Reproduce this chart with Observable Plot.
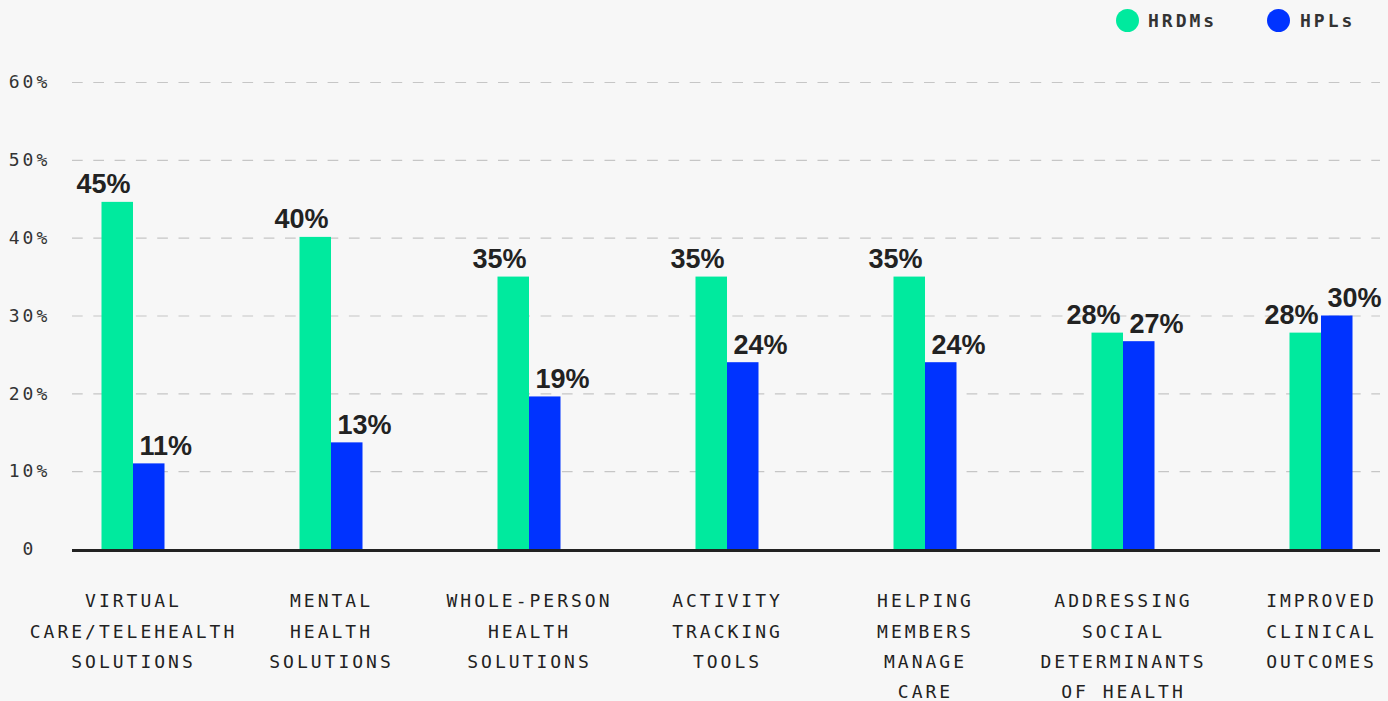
<!DOCTYPE html>
<html><head><meta charset="utf-8">
<script src="https://cdn.jsdelivr.net/npm/d3@7"></script>
<script src="https://cdn.jsdelivr.net/npm/@observablehq/plot@0.6"></script>
<style>
html,body{margin:0;padding:0;background:#f7f7f7;}
#legend{position:relative;height:40px;width:1388px;font-family:"DejaVu Sans Mono",monospace;font-weight:bold;font-size:18px;letter-spacing:3px;color:#333;}
.sw{position:absolute;width:23px;height:23px;border-radius:50%;top:9px;}
.lb{position:absolute;top:9px;line-height:23px;}
#chart svg{display:block;}
</style></head><body>
<div id="legend"></div>
<div id="chart"></div>
<script>
const categories = ["Virtual care/telehealth solutions","Mental health solutions","Whole-person health solutions","Activity tracking tools","Helping members manage care","Addressing social determinants of health","Improved clinical outcomes"];
const xTickLabels = ["VIRTUAL\nCARE/TELEHEALTH\nSOLUTIONS","MENTAL\nHEALTH\nSOLUTIONS","WHOLE-PERSON\nHEALTH\nSOLUTIONS","ACTIVITY\nTRACKING\nTOOLS","HELPING\nMEMBERS\nMANAGE\nCARE","ADDRESSING\nSOCIAL\nDETERMINANTS\nOF HEALTH","IMPROVED\nCLINICAL\nOUTCOMES"];
const seriesNames = ["HRDMs","HPLs"];
const seriesColors = ["#00EA9E","#0033FF"];
const hrdmValues = [44.6, 40.1, 35.0, 35.0, 35.0, 27.8, 27.8];
const hplValues = [11.0, 13.7, 19.6, 24.0, 24.0, 26.7, 30.0];
const hrdmLabels = ["45%","40%","35%","35%","35%","28%","28%"];
const hplLabels = ["11%","13%","19%","24%","24%","27%","30%"];
const yTicks = [0, 10, 20, 30, 40, 50, 60];
const yTickLabels = ["0","10%","20%","30%","40%","50%","60%"];

// legend
const legend = document.getElementById("legend");
const legendPos = [[1116, 1148], [1267, 1300]];
seriesNames.forEach((n, i) => {
  const s = document.createElement("div");
  s.className = "sw"; s.style.left = legendPos[i][0] + "px"; s.style.background = seriesColors[i];
  const t = document.createElement("div");
  t.className = "lb"; t.style.left = legendPos[i][1] + "px"; t.textContent = n;
  legend.appendChild(s); legend.appendChild(t);
});

const hrdmRows = categories.map((c, i) => ({category: c, value: hrdmValues[i], label: hrdmLabels[i]}));
const hplRows = categories.map((c, i) => ({category: c, value: hplValues[i], label: hplLabels[i]}));
const tickRows = categories.map((c, i) => ({category: c, label: xTickLabels[i]}));
const yRows = yTicks.map((v, i) => ({v, label: yTickLabels[i]}));

const labelFont = "'Liberation Sans', Arial, sans-serif";
const monoFont = "'DejaVu Sans Mono', monospace";

const chart = Plot.plot({
  width: 1388,
  height: 661,
  marginLeft: 72,
  marginRight: 8,
  marginTop: 42,
  marginBottom: 152,
  style: {background: "#f7f7f7", color: "#222"},
  x: {domain: categories, range: [34, 1420], padding: 0, axis: null},
  y: {domain: [0, 60], axis: null},
  marks: [
    Plot.ruleY(yTicks.filter(d => d > 0), {stroke: "#c6c6c6", strokeWidth: 1.2, strokeDasharray: "10.7,10.6"}),
    Plot.barY(hrdmRows, {x: "category", y: "value", fill: seriesColors[0], insetLeft: 67.5, insetRight: 99}),
    Plot.barY(hplRows, {x: "category", y: "value", fill: seriesColors[1], insetLeft: 99, insetRight: 67.5}),
    Plot.ruleY([0], {stroke: "#222", strokeWidth: 3, dy: 1}),
    Plot.text(hrdmRows, {x: "category", y: "value", text: "label", textAnchor: "end", lineAnchor: "bottom", dx: -3, dy: -9, fontSize: 27, fontWeight: 700, fontFamily: labelFont, fill: "#222"}),
    Plot.text(hplRows, {x: "category", y: "value", text: "label", textAnchor: "start", lineAnchor: "bottom", dx: 6, dy: -9, fontSize: 27, fontWeight: 700, fontFamily: labelFont, fill: "#222"}),
    Plot.text(tickRows, {x: "category", text: "label", frameAnchor: "bottom", lineAnchor: "top", dy: 36, lineHeight: 1.69, fontSize: 18, fontFamily: monoFont, fill: "#222"}),
    Plot.text(yRows, {y: "v", text: "label", frameAnchor: "left", textAnchor: "middle", dx: -43, fontSize: 18, fontFamily: monoFont, fill: "#333"})
  ]
});
d3.select(chart).selectAll('g[font-size="18"]').style("letter-spacing", "3px");
document.getElementById("chart").appendChild(chart);
</script>
</body></html>
